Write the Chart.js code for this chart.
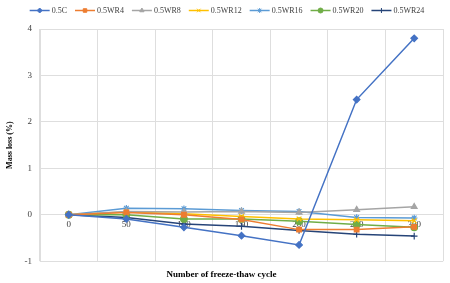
<!DOCTYPE html>
<html>
<head>
<meta charset="utf-8">
<script src="https://cdn.jsdelivr.net/npm/chart.js@4/dist/chart.umd.min.js"></script>
<style>
  html, body { margin: 0; padding: 0; background: #fff; }
  #wrap { width: 450px; height: 283px; }
</style>
</head>
<body>
<div id="wrap"><canvas id="MassChart"></canvas></div>
<script>
// Dati del grafico
const cycles = ['0', '50', '100', '150', '200', '250', '300'];
const seriesNames = ['0.5C', '0.5WR4', '0.5WR8', '0.5WR12', '0.5WR16', '0.5WR20', '0.5WR24'];
const mass05C   = [0, -0.09, -0.27, -0.45, -0.65, 2.48, 3.80];
const mass05WR4  = [0, 0.05, 0.00, -0.10, -0.32, -0.32, -0.26];
const mass05WR8  = [0, 0.07, 0.06, 0.07, 0.05, 0.11, 0.17];
const mass05WR12 = [0, 0.06, 0.02, -0.04, -0.09, -0.11, -0.13];
const mass05WR16 = [0, 0.14, 0.13, 0.09, 0.07, -0.06, -0.07];
const mass05WR20 = [0, 0.00, -0.09, -0.09, -0.14, -0.21, -0.27];
const mass05WR24 = [0, -0.06, -0.20, -0.25, -0.34, -0.42, -0.46];
const yTicks = [-1, 0, 1, 2, 3, 4];

const colors = ['#4472C4', '#ED7D31', '#A5A5A5', '#FFC000', '#5B9BD5', '#70AD47', '#264478'];
const markers = ['rectRot', 'rect', 'triangle', 'crossRot', 'star', 'circle', 'cross'];
const allValues = [mass05C, mass05WR4, mass05WR8, mass05WR12, mass05WR16, mass05WR20, mass05WR24];

const serif = '"Liberation Serif", "Times New Roman", serif';

// Legenda con linea + marcatore, come in Excel
const lineLegend = {
    id: 'lineLegend',
    afterDraw(chart) {
        const ctx = chart.ctx;
        const sets = chart.data.datasets;
        ctx.save();
        ctx.font = '8px ' + serif;
        ctx.textBaseline = 'middle';
        const lineW = 20, gap = 2, itemGap = 8;
        const widths = sets.map(ds => ctx.measureText(ds.label).width);
        const total = widths.reduce((s, w) => s + lineW + gap + w, 0) + itemGap * (sets.length - 1);
        let x = (chart.width - total) / 2 + 2;
        const y = 10.5;
        sets.forEach((ds, i) => {
            ctx.strokeStyle = ds.borderColor;
            ctx.lineWidth = 1.5;
            ctx.beginPath();
            ctx.moveTo(x, y);
            ctx.lineTo(x + lineW, y);
            ctx.stroke();
            ctx.fillStyle = ds.backgroundColor;
            ctx.lineWidth = 1;
            if (Chart.helpers && Chart.helpers.drawPoint) {
                Chart.helpers.drawPoint(ctx, {pointStyle: ds.pointStyle, radius: 2.5, rotation: 0, borderWidth: 1}, x + lineW / 2, y);
            }
            ctx.fillStyle = '#404040';
            ctx.fillText(ds.label, x + lineW + gap, y);
            x += lineW + gap + widths[i] + itemGap;
        });
        ctx.restore();
    }
};

const datasets = seriesNames.map((name, i) => ({
    label: name,
    data: allValues[i],
    borderColor: colors[i],
    backgroundColor: colors[i],
    pointStyle: markers[i],
    pointRadius: 3.3,
    pointBorderWidth: 1.2,
    borderWidth: 1.5,
    tension: 0,
    fill: false
}));

document.addEventListener('DOMContentLoaded', function() {
const ctx = document.getElementById('MassChart').getContext('2d');
const massChart = new Chart(ctx, {
    type: 'line',
    data: { labels: cycles, datasets: datasets },
    options: {
        responsive: true,
        maintainAspectRatio: false,
        animation: false,
        layout: { padding: { top: 29, right: 7, left: 0, bottom: 0 } },
        plugins: {
            legend: { display: false },
            tooltip: { enabled: false },
            title: {
                display: true,
                position: 'bottom',
                text: 'Number of freeze-thaw cycle',
                font: { family: serif, size: 9, weight: 'bold' },
                color: '#000',
                padding: { top: 8, bottom: 3 }
            }
        },
        scales: {
            x: {
                type: 'category',
                position: { y: 0 },
                offset: true,
                grid: { offset: true, color: '#dedede', drawTicks: false },
                border: { display: false },
                ticks: {
                    autoSkip: false,
                    maxRotation: 0,
                    padding: 4,
                    font: { family: serif, size: 9 },
                    color: '#404040'
                }
            },
            y: {
                min: -1,
                max: 4,
                afterFit: function(scale) { scale.width = 40; },
                afterBuildTicks: function(scale) {
                    scale.ticks = yTicks.map(v => ({ value: v }));
                },
                grid: { color: '#dedede', drawTicks: false },
                border: { color: '#dedede' },
                ticks: {
                    padding: 8,
                    font: { family: serif, size: 9 },
                    color: '#404040'
                },
                title: {
                    display: true,
                    text: 'Mass loss (%)',
                    font: { family: serif, size: 8, weight: 'bold' },
                    color: '#000',
                    padding: { top: 5, bottom: 0 }
                }
            }
        }
    },
    plugins: [lineLegend]
});
});
</script>
</body>
</html>
